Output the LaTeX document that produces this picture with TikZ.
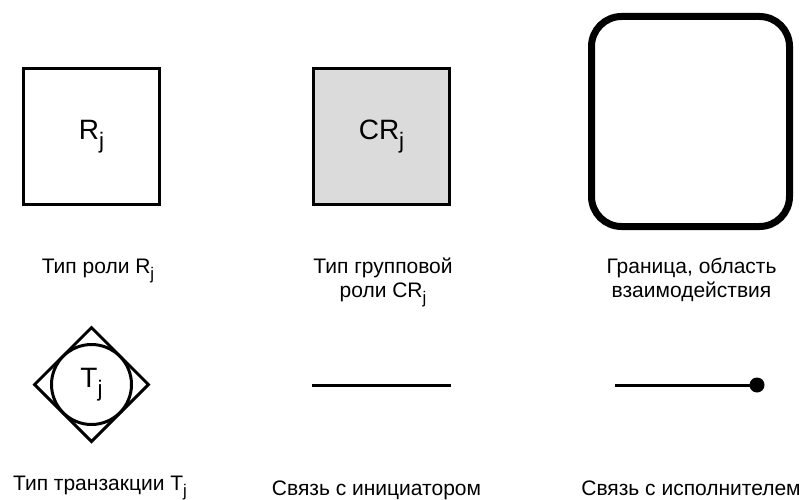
\documentclass[tikz,border=0pt]{standalone}
\usepackage{fontspec}
\usepackage{graphicx}
\setmainfont{Liberation Sans}
\usetikzlibrary{shapes.geometric}

\newcommand\lowidx[1]{\raisebox{-0.3em}{\scalebox{0.8}{#1}}}

\tikzset{
  rolebox/.style={draw,line width=3pt,minimum size=136pt,inner sep=0pt,font=\fontsize{28}{32}\selectfont},
  caption/.style={font=\fontsize{21}{24}\selectfont,align=center,anchor=base},
  link/.style={line width=3pt}
}

\begin{document}
\begin{tikzpicture}[x=1pt,y=-1pt]
\useasboundingbox (0,0) rectangle (805,500);
% top row
\node[rolebox] (role) at (91.5,136.5) {R\lowidx{j}};
\node[rolebox,fill=black!14] (grouprole) at (381.5,136.5) {CR\lowidx{j}};
\node[draw,line width=7pt,rounded corners=30pt,minimum width=198pt,minimum height=210pt] (border) at (690.5,121.5) {};
\node[caption] (roleL) at (98,273) {Тип роли R\lowidx{j}};
\node[caption] (grouproleL) at (383,297) {Тип групповой\\роли CR\lowidx{j}};
\node[caption] (borderL) at (691.5,297) {Граница, область\\взаимодействия};
% bottom row
\node[diamond,draw,line width=3pt,minimum size=115pt,inner sep=0pt] (transD) at (91.5,384.5) {};
\node[circle,draw,line width=3pt,minimum size=80pt,inner sep=0pt,font=\fontsize{28}{32}\selectfont] (trans) at (91.5,384.5) {T\lowidx{j}};
\coordinate (ini1) at (312,385);
\coordinate (ini2) at (451,385);
\draw[link] (ini1) -- (ini2);
\coordinate (exe1) at (615,385);
\coordinate (exe2) at (757,385);
\draw[link] (exe1) -- (exe2);
\fill (exe2) circle (7.5);
\node[caption] (transL) at (100,490) {Тип транзакции T\lowidx{j}};
\node[caption] (iniL) at (376.5,495.5) {Связь с инициатором};
\node[caption] (exeL) at (691,495.5) {Связь с исполнителем};
\end{tikzpicture}
\end{document}
